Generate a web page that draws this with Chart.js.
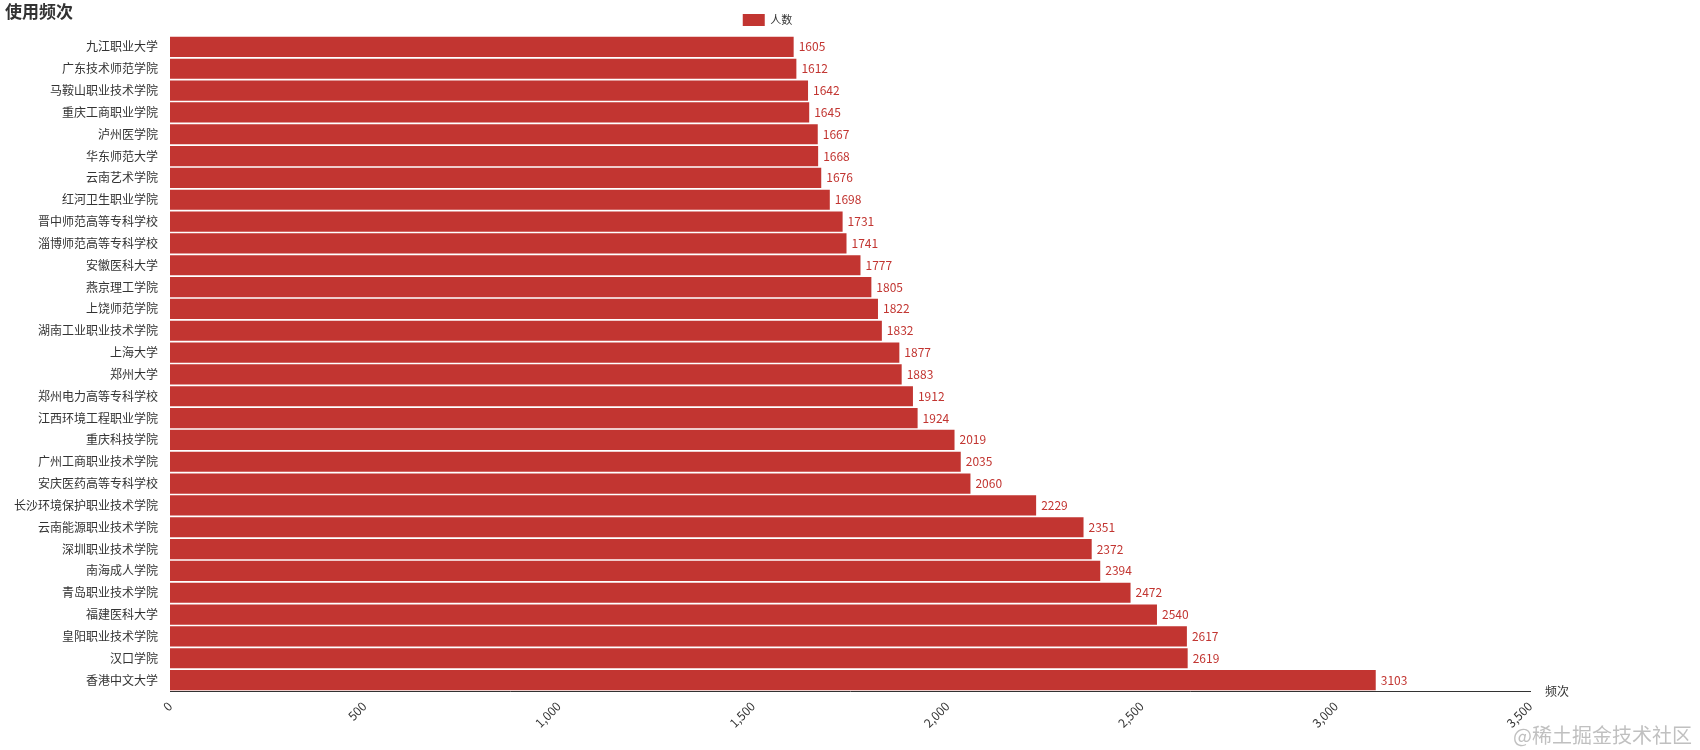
<!DOCTYPE html>
<html lang="zh">
<head>
    <meta charset="UTF-8">
    <title>使用频次</title>
    <script src="https://cdn.jsdelivr.net/npm/chart.js"></script>
    <style>
        html, body { margin: 0; padding: 0; background: #fff; }
        #wrap { width: 1700px; height: 750px; }
    </style>
</head>
<body>
    <div id="wrap"><canvas id="freqChart"></canvas></div>
    <script>
        // categories, top to bottom
        const schools = ['九江职业大学', '广东技术师范学院', '马鞍山职业技术学院', '重庆工商职业学院', '泸州医学院',
            '华东师范大学', '云南艺术学院', '红河卫生职业学院', '晋中师范高等专科学校', '淄博师范高等专科学校',
            '安徽医科大学', '燕京理工学院', '上饶师范学院', '湖南工业职业技术学院', '上海大学',
            '郑州大学', '郑州电力高等专科学校', '江西环境工程职业学院', '重庆科技学院', '广州工商职业技术学院',
            '安庆医药高等专科学校', '长沙环境保护职业技术学院', '云南能源职业技术学院', '深圳职业技术学院', '南海成人学院',
            '青岛职业技术学院', '福建医科大学', '皇阳职业技术学院', '汉口学院', '香港中文大学'];
        const counts = [1605, 1612, 1642, 1645, 1667, 1668, 1676, 1698, 1731, 1741,
            1777, 1805, 1822, 1832, 1877, 1883, 1912, 1924, 2019, 2035,
            2060, 2229, 2351, 2372, 2394, 2472, 2540, 2617, 2619, 3103];
        const xMax = 3500;
        const xStep = 500;

        const red = '#c23531';

        // value labels, title, axis name, watermark
        const extras = {
            id: 'extras',
            afterDatasetsDraw(chart) {
                const ctx = chart.ctx;
                const meta = chart.getDatasetMeta(0);
                ctx.save();
                ctx.font = '12px "Noto Sans CJK SC", sans-serif';
                ctx.fillStyle = red;
                ctx.textBaseline = 'middle';
                meta.data.forEach((bar, i) => {
                    ctx.fillText(counts[i], bar.x + 5, bar.y);
                });
                ctx.restore();
            },
            afterDraw(chart) {
                const ctx = chart.ctx;
                const area = chart.chartArea;
                ctx.save();
                ctx.fillStyle = '#333';
                ctx.font = 'bold 17px "Noto Sans CJK SC", sans-serif';
                ctx.textBaseline = 'top';
                ctx.fillText('使用频次', 5, 3);
                ctx.font = '12px "Noto Sans CJK SC", sans-serif';
                ctx.textBaseline = 'middle';
                ctx.fillText('频次', area.right + 15, area.bottom);
                ctx.fillStyle = 'rgba(150,150,150,0.6)';
                ctx.font = '20px "Noto Sans CJK SC", sans-serif';
                ctx.textAlign = 'right';
                ctx.textBaseline = 'bottom';
                ctx.fillText('@稀土掘金技术社区', 1692, 745);
                ctx.restore();
            }
        };

        new Chart(document.getElementById('freqChart'), {
            type: 'bar',
            data: {
                labels: schools,
                datasets: [{
                    label: '人数',
                    data: counts,
                    backgroundColor: red,
                    borderColor: red,
                    barPercentage: 0.92,
                    categoryPercentage: 1
                }]
            },
            options: {
                indexAxis: 'y',
                responsive: true,
                maintainAspectRatio: false,
                animation: false,
                layout: { padding: { top: 4, right: 170, bottom: 4, left: 5 } },
                plugins: {
                    legend: {
                        position: 'top',
                        labels: {
                            boxWidth: 22, boxHeight: 12, color: '#333',
                            font: { size: 11, family: '"Noto Sans CJK SC", sans-serif' }
                        }
                    },
                    tooltip: { enabled: false }
                },
                scales: {
                    x: {
                        min: 0, max: xMax,
                        grid: { display: false, drawTicks: true, tickLength: 5, color: '#333' },
                        border: { display: true, color: '#333' },
                        ticks: {
                            stepSize: xStep, maxRotation: 45, minRotation: 45, color: '#333',
                            font: { size: 12, family: '"Noto Sans CJK SC", sans-serif' }
                        },
                        afterFit(scale) { scale.height = 55; }
                    },
                    y: {
                        grid: { display: false },
                        border: { display: false },
                        ticks: {
                            color: '#333', autoSkip: false, padding: 4,
                            font: { size: 12, family: '"Noto Sans CJK SC", sans-serif' }
                        },
                        afterFit(scale) { scale.width = 165; }
                    }
                }
            },
            plugins: [extras]
        });
    </script>
</body>
</html>
